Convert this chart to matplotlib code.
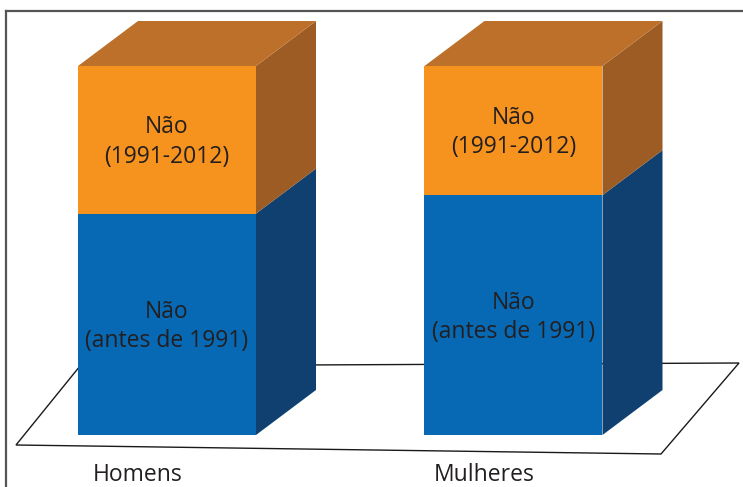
import numpy as np
import matplotlib.pyplot as plt
from matplotlib.patches import Polygon
from matplotlib.lines import Line2D

plt.rcParams['font.family'] = ['Open Sans', 'DejaVu Sans']

# data (percent of each group)
groups = ['Homens', 'Mulheres']
antes_1991 = [60, 65]
de_1991_2012 = [40, 35]
seg_labels = ['Não\n(antes de 1991)', 'Não\n(1991-2012)']

front_cols = ['#0769B3', '#F6931F']
side_cols = ['#0F406F', '#9C5C24']
top_col = '#BC7029'
txt_col = '#231F20'

W, H = 743, 487
fig = plt.figure(figsize=(W / 100, H / 100), dpi=100)
ax = fig.add_axes([0, 0, 1, 1])

# scales: 346.5 px between groups, 3.69 px per percent
px_x, px_y = 346.5, 3.69
ax.set_xlim(-167 / px_x, (W - 167) / px_x)
ax.set_ylim(-(H - 435) / px_y, 100 + 66 / px_y)
ax.axis('off')

bw = 178 / px_x
dx, dy = 60 / px_x, 45 / px_y

pos = np.arange(len(groups))
bottom = np.zeros(len(groups))
for vals, fc, sc, lab in zip([antes_1991, de_1991_2012], front_cols, side_cols, seg_labels):
    vals = np.array(vals, dtype=float)
    ax.bar(pos, vals, bw, bottom=bottom, color=fc, zorder=3, linewidth=0)
    for i in range(len(groups)):
        x1 = pos[i] + bw / 2
        y0, y1 = bottom[i], bottom[i] + vals[i]
        ax.add_patch(Polygon([(x1, y0), (x1 + dx, y0 + dy), (x1 + dx, y1 + dy), (x1, y1)],
                             closed=True, color=sc, zorder=3, linewidth=0))
        ax.text(pos[i], (y0 + y1) / 2 - 0.6, lab, ha='center', va='center',
                fontsize=16.5, color=txt_col, linespacing=1.3, zorder=5)
    bottom += vals

for i in range(len(groups)):
    x0, x1 = pos[i] - bw / 2, pos[i] + bw / 2
    t = bottom[i]
    ax.add_patch(Polygon([(x0, t), (x1, t), (x1 + dx, t + dy), (x0 + dx, t + dy)],
                         closed=True, color=top_col, zorder=3, linewidth=0))
    ax.text(pos[i] - 0.085, -(475 - 435) / px_y, groups[i], ha='center', va='center',
            fontsize=16.5, color=txt_col)

# floor
floor = [(16, 445), (661, 454), (739, 363), (80, 366)]
ax.add_patch(Polygon([(x / W, 1 - y / H) for x, y in floor], closed=True,
                     transform=ax.transAxes, facecolor='white', edgecolor='#1a1a1a',
                     linewidth=1.0, zorder=1))

# frame
fig.add_artist(Line2D([6 / W, 6 / W], [0, 1 - 11 / H], color='#555555', lw=1.6))
fig.add_artist(Line2D([6 / W, 1], [1 - 11 / H, 1 - 11 / H], color='#555555', lw=1.6))

fig.savefig('out.png', dpi=100)
